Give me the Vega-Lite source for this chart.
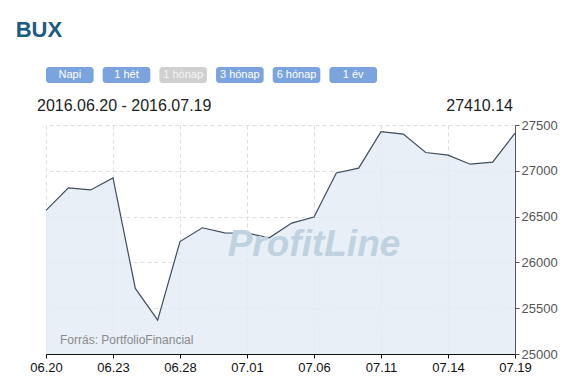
{
  "$schema": "https://vega.github.io/schema/vega-lite/v6.json",
  "background": "white",
  "padding": {"left": 15, "top": 19, "right": 5, "bottom": 5},
  "config": {"view": {"stroke": null}, "font": "Liberation Sans"},
  "title": {"text": "BUX", "anchor": "start", "dx": -14, "fontSize": 22, "font": "Liberation Sans", "fontWeight": "bold", "color": "#1e5b80", "offset": 25},
  "spacing": 15,
  "vconcat": [
    {
      "width": 331,
      "height": 16,
      "data": {"values": [{"label": "Napi"}, {"label": "1 hét"}, {"label": "1 hónap"}, {"label": "3 hónap"}, {"label": "6 hónap"}, {"label": "1 év"}]},
      "encoding": {"x": {"field": "label", "type": "nominal", "sort": null, "axis": null, "scale": {"paddingInner": 0.16, "paddingOuter": 0}}},
      "layer": [
        {"mark": {"type": "bar", "cornerRadius": 3}, "encoding": {"color": {"condition": {"test": "datum.label === '1 hónap'", "value": "#d0d0d0"}, "value": "#7ba4de"}}},
        {"mark": {"type": "text", "fontSize": 11, "font": "Liberation Sans"}, "encoding": {"text": {"field": "label"}, "color": {"condition": {"test": "datum.label === '1 hónap'", "value": "#f4f4f4"}, "value": "white"}}}
      ]
    },
    {
      "width": 469,
      "height": 229,
      "data": {"values": [
        {"date": "06.20", "close": 26568},
        {"date": "06.21", "close": 26813},
        {"date": "06.22", "close": 26791},
        {"date": "06.23", "close": 26922},
        {"date": "06.24", "close": 25716},
        {"date": "06.27", "close": 25370},
        {"date": "06.28", "close": 26228},
        {"date": "06.29", "close": 26378},
        {"date": "06.30", "close": 26323},
        {"date": "07.01", "close": 26320},
        {"date": "07.04", "close": 26269},
        {"date": "07.05", "close": 26429},
        {"date": "07.06", "close": 26495},
        {"date": "07.07", "close": 26977},
        {"date": "07.08", "close": 27029},
        {"date": "07.11", "close": 27427},
        {"date": "07.12", "close": 27401},
        {"date": "07.13", "close": 27200},
        {"date": "07.14", "close": 27171},
        {"date": "07.15", "close": 27072},
        {"date": "07.18", "close": 27094},
        {"date": "07.19", "close": 27410.14}
      ]},
      "encoding": {
        "x": {"field": "date", "type": "ordinal", "sort": null, "scale": {"type": "point", "padding": 0},
          "axis": {"values": ["06.20", "06.23", "06.28", "07.01", "07.06", "07.11", "07.14", "07.19"], "labelAngle": 0, "title": null, "labelOverlap": false, "labelBound": false, "labelFlush": false, "domainColor": "#111", "tickColor": "#111", "tickSize": 4, "labelFontSize": 13, "labelColor": "#111", "labelPadding": 3, "grid": true, "gridDash": [4, 3], "gridColor": "#dedede", "labelFont": "Liberation Sans"}}
      },
      "layer": [
        {
          "mark": {"type": "area", "color": "#e2ebf5", "opacity": 0.8, "line": {"color": "#3e4d5d", "strokeWidth": 1.2, "opacity": 1}},
          "encoding": {
            "y": {"field": "close", "type": "quantitative", "scale": {"domain": [25000, 27500], "zero": false, "nice": false},
              "axis": {"orient": "right", "title": null, "values": [25000, 25250, 25500, 25750, 26000, 26250, 26500, 26750, 27000, 27250, 27500],
                "labelExpr": "datum.value % 500 === 0 ? format(datum.value, 'd') : ''",
                "labelFontSize": 13, "labelColor": "#555", "labelPadding": 2, "labelFont": "Liberation Sans",
                "domainColor": "#555",
                "tickColor": {"condition": {"test": "datum.value % 500 === 0", "value": "#555"}, "value": "#d86a6a"},
                "tickSize": 4,
                "grid": true, "gridDash": [4, 3], "gridColor": "#dedede",
                "gridOpacity": {"condition": {"test": "datum.value % 500 === 0", "value": 1}, "value": 0}}},
            "y2": {"datum": 25000}
          }
        },
        {
          "data": {"values": [{}]},
          "mark": {"type": "text", "fontSize": 37, "fontWeight": "bold", "fontStyle": "italic", "color": "#c0d2df", "align": "center", "baseline": "alphabetic", "font": "Liberation Sans"},
          "encoding": {"x": {"datum": "07.06", "type": "ordinal"}, "y": {"datum": 26070, "type": "quantitative"}, "text": {"value": "ProfitLine"}}
        },
        {
          "data": {"values": [{}]},
          "mark": {"type": "text", "fontSize": 12, "color": "#8a8a8a", "align": "left", "baseline": "middle", "dx": 14, "font": "Liberation Sans"},
          "encoding": {"x": {"datum": "06.20", "type": "ordinal"}, "y": {"datum": 25150, "type": "quantitative"}, "text": {"value": "Forrás: PortfolioFinancial"}}
        },
        {
          "data": {"values": [{}]},
          "mark": {"type": "text", "fontSize": 16, "color": "#222", "align": "left", "baseline": "alphabetic", "dx": -9, "dy": -14, "font": "Liberation Sans"},
          "encoding": {"x": {"datum": "06.20", "type": "ordinal"}, "y": {"datum": 27500, "type": "quantitative"}, "text": {"value": "2016.06.20 - 2016.07.19"}}
        },
        {
          "data": {"values": [{}]},
          "mark": {"type": "text", "fontSize": 16, "color": "#222", "align": "right", "baseline": "alphabetic", "dx": -2, "dy": -14, "font": "Liberation Sans"},
          "encoding": {"x": {"datum": "07.19", "type": "ordinal"}, "y": {"datum": 27500, "type": "quantitative"}, "text": {"value": "27410.14"}}
        }
      ]
    }
  ]
}
